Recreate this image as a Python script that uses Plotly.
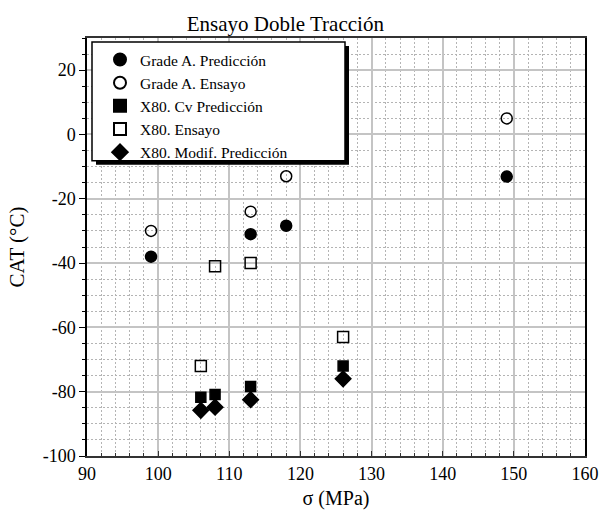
import plotly.graph_objects as go

# Data
ga_pred_x = [99, 113, 118, 149]
ga_pred_y = [-38, -31, -28.4, -13.1]
ga_ens_x = [99, 113, 118, 149]
ga_ens_y = [-30, -24, -13, 5]
x80_cv_x = [106, 108, 113, 126]
x80_cv_y = [-81.7, -80.9, -78.4, -72]
x80_ens_x = [106, 108, 113, 126]
x80_ens_y = [-72, -41, -40, -63]
x80_mod_x = [106, 108, 113, 126]
x80_mod_y = [-85.8, -84.8, -82.5, -76]

names = ["Grade A. Predicción", "Grade A. Ensayo", "X80. Cv Predicción",
         "X80. Ensayo", "X80. Modif. Predicción"]

y_tickvals = [-100, -80, -60, -40, -20, 0, 20]
y_ticktext = ["-100", "-80", "-60", "-40", "-20", "0", "20"]

FONT = "Liberation Serif, Times New Roman, serif"

fig = go.Figure()
series = [
    (ga_pred_x, ga_pred_y, "circle", 11),
    (ga_ens_x, ga_ens_y, "circle-open", 11),
    (x80_cv_x, x80_cv_y, "square", 10),
    (x80_ens_x, x80_ens_y, "square-open", 11),
    (x80_mod_x, x80_mod_y, "diamond", 12),
]
for (xs, ys, sym, sz), nm in zip(series, names):
    fig.add_trace(go.Scatter(
        x=xs, y=ys, mode="markers", name=nm,
        marker=dict(symbol=sym, size=sz, color="black",
                    line=dict(color="black", width=1.5)),
    ))

# plot area in pixels: x 87..585, y 38..460
PW, PH = 498, 422
def px(xp):
    return (xp - 87) / PW
def py(yp):
    return (460 - yp) / PH

# legend frame: shadow + white box
fig.add_shape(type="rect", xref="paper", yref="paper",
              x0=px(96), x1=px(349), y0=py(166), y1=py(46),
              fillcolor="black", line=dict(width=0), layer="above")
fig.add_shape(type="rect", xref="paper", yref="paper",
              x0=px(92), x1=px(345), y0=py(162), y1=py(42),
              fillcolor="white", line=dict(color="black", width=1.5), layer="above")

fig.update_layout(
    width=611, height=518,
    margin=dict(l=87, r=26, t=38, b=58),
    paper_bgcolor="white", plot_bgcolor="white",
    font=dict(family=FONT, color="black", size=18),
    title=dict(text="Ensayo Doble Tracción", x=0.467, xanchor="center",
               y=0.955, yanchor="middle", font=dict(size=21, family=FONT)),
    showlegend=True,
    legend=dict(x=px(100), y=py(43), xanchor="left", yanchor="top",
                bgcolor="rgba(0,0,0,0)", borderwidth=0,
                font=dict(size=15.5, family=FONT), tracegroupgap=0,
                itemsizing="constant"),
)

fig.update_xaxes(
    range=[90, 160], dtick=10, tick0=90,
    showline=True, linecolor="#333", linewidth=2, mirror=True,
    ticks="inside", ticklen=5, tickcolor="#333",
    showgrid=True, gridcolor="#c4c4c4", gridwidth=1.5,
    minor=dict(dtick=2, showgrid=True, gridcolor="#b4b4b4", griddash="2px,2px",
               gridwidth=1, ticks="inside", ticklen=3, tickcolor="#333"),
    zeroline=False,
    tickfont=dict(size=18, family=FONT),
    title=dict(text="σ (MPa)", font=dict(size=20, family=FONT), standoff=8),
)
fig.update_yaxes(
    range=[-100, 30], tickmode="array", tickvals=y_tickvals, ticktext=y_ticktext,
    showline=True, linecolor="black", linewidth=1.5, mirror=True,
    ticks="outside", ticklen=6, tickcolor="black",
    showgrid=True, gridcolor="#c4c4c4", gridwidth=1.5,
    minor=dict(dtick=5, tick0=0, showgrid=True, gridcolor="#b4b4b4", griddash="2px,2px",
               gridwidth=1, ticks="outside", ticklen=3, tickcolor="black"),
    zeroline=False,
    tickfont=dict(size=18, family=FONT),
    title=dict(text="CAT (°C)", font=dict(size=21, family=FONT), standoff=12),
)

fig.write_html("out.html")
